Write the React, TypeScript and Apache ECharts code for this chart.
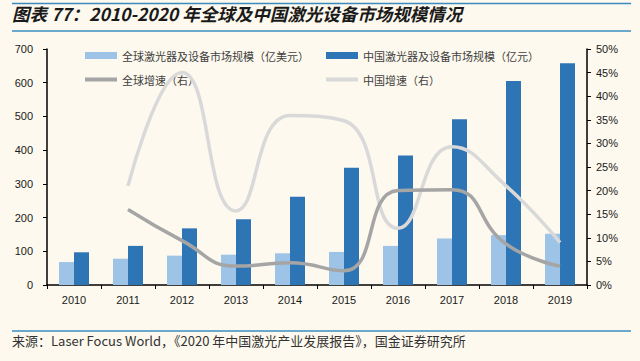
import React, { useEffect, useRef } from "react";
import * as echarts from "echarts";

const years = ["2010", "2011", "2012", "2013", "2014", "2015", "2016", "2017", "2018", "2019"];
const globalSize = [68, 78, 87, 90, 94, 98, 116, 138, 148, 152];
const chinaSize = [97, 116, 168, 195, 262, 348, 384, 492, 605, 658];
const globalGrowth: (number | null)[] = [null, 16, 9.4, 4, 4.7, 3, 20, 20.2, 8.7, 4];
const chinaGrowth: (number | null)[] = [null, 21, 45, 15.7, 35.9, 34.8, 12, 29.3, 21, 9];

const titleText = "图表 77：2010-2020 年全球及中国激光设备市场规模情况";
const sourceText = "来源：Laser Focus World，《2020 年中国激光产业发展报告》，国金证券研究所";
const names = [
  "全球激光器及设备市场规模（亿美元）",
  "中国激光器及设备市场规模（亿元）",
  "全球增速（右）",
  "中国增速（右）",
];

const LIGHT = "#9DC3E6";
const DARK = "#2E75B6";
const GRAY = "#A5A5A5";
const LGRAY = "#D9D9D9";
const RULE = "#3A8CC0";
const CJK = "'Noto Sans CJK SC', 'Liberation Sans', sans-serif";
const NUM = "'Liberation Sans', Arial, sans-serif";

export default function App() {
  const ref = useRef<HTMLDivElement>(null);
  useEffect(() => {
    if (!ref.current) return;
    const chart = echarts.init(ref.current, undefined, { renderer: "svg" });
    const legendBase = (name: string, left: number, top: number, isBar: boolean) => ({
      left,
      top,
      data: [name],
      itemWidth: 32,
      itemHeight: isBar ? 7 : 4,
      itemGap: 0,
      icon: "rect",
      textStyle: { fontFamily: CJK, fontSize: 11, color: "#404040" },
    });
    chart.setOption({
      animation: false,
      backgroundColor: "#FDF9EE",
      textStyle: { fontFamily: NUM },
      grid: { left: 47, right: 53, top: 49, bottom: 76 },
      legend: [
        legendBase(names[0], 80, 45, true),
        legendBase(names[1], 321, 45, true),
        legendBase(names[2], 80, 69, false),
        legendBase(names[3], 321, 69, false),
      ],
      graphic: [
        { type: "line", shape: { x1: 12, y1: 3.5, x2: 631, y2: 3.5 }, style: { stroke: RULE, lineWidth: 1.5 } },
        { type: "line", shape: { x1: 12, y1: 31, x2: 631, y2: 31 }, style: { stroke: RULE, lineWidth: 1.5 } },
        { type: "line", shape: { x1: 12, y1: 331, x2: 631, y2: 331 }, style: { stroke: RULE, lineWidth: 1.5 } },
        {
          type: "text",
          left: 12,
          top: 5,
          style: {
            text: titleText,
            font: `italic bold 17.5px ${CJK}`,
            fill: "#1a1a1a",
          },
        },
        {
          type: "text",
          left: 12,
          top: 334,
          style: {
            text: sourceText,
            font: `13px ${CJK}`,
            fill: "#333",
          },
        },
      ],
      xAxis: {
        type: "category",
        data: years,
        axisLine: { lineStyle: { color: "#000", width: 1.5 } },
        axisTick: { show: true, alignWithLabel: false, length: 4, inside: false, lineStyle: { color: "#000" } },
        axisLabel: { fontSize: 11, color: "#1a1a1a", margin: 9, fontFamily: NUM },
      },
      yAxis: [
        {
          type: "value",
          min: 0,
          max: 700,
          interval: 100,
          splitLine: { show: false },
          axisLine: { show: true, lineStyle: { color: "#000", width: 1.5 } },
          axisTick: { show: true, length: 4, lineStyle: { color: "#000" } },
          axisLabel: { fontSize: 11, color: "#1a1a1a", margin: 14, fontFamily: NUM },
        },
        {
          type: "value",
          min: 0,
          max: 50,
          interval: 5,
          position: "right",
          splitLine: { show: false },
          axisLine: { show: true, lineStyle: { color: "#000", width: 1.5 } },
          axisTick: { show: true, length: 4, lineStyle: { color: "#000" } },
          axisLabel: { fontSize: 11, color: "#1a1a1a", margin: 9, fontFamily: NUM, formatter: "{value}%" },
        },
      ],
      series: [
        {
          name: names[0],
          type: "bar",
          data: globalSize,
          barWidth: 15,
          barGap: "0%",
          itemStyle: { color: LIGHT },
        },
        {
          name: names[1],
          type: "bar",
          data: chinaSize,
          barWidth: 15,
          barGap: "0%",
          itemStyle: { color: DARK },
        },
        {
          name: names[2],
          type: "line",
          yAxisIndex: 1,
          data: globalGrowth,
          smooth: 0.5,
          symbol: "none",
          lineStyle: { color: GRAY, width: 3.5 },
          itemStyle: { color: GRAY },
          z: 5,
        },
        {
          name: names[3],
          type: "line",
          yAxisIndex: 1,
          data: chinaGrowth,
          smooth: 0.5,
          symbol: "none",
          lineStyle: { color: LGRAY, width: 3.5 },
          itemStyle: { color: LGRAY },
          z: 4,
        },
      ],
    });
    return () => chart.dispose();
  }, []);
  return (
    <div
      ref={ref}
      style={{ position: "fixed", left: 0, top: 0, width: 640, height: 361 }}
    />
  );
}
